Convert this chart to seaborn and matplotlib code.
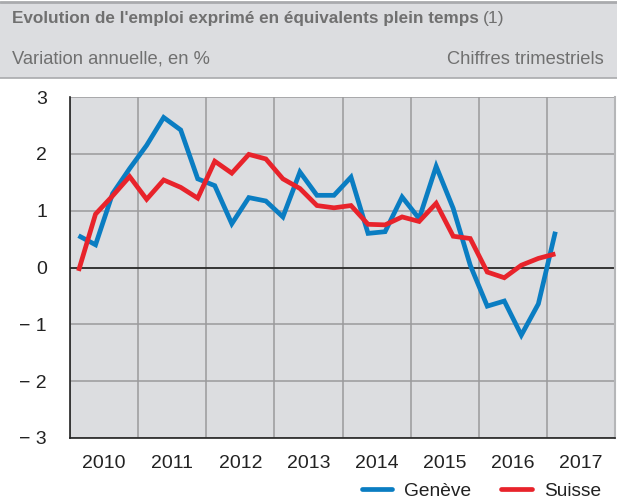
import numpy as np
import pandas as pd
import matplotlib
matplotlib.use("Agg")
import matplotlib.pyplot as plt
from matplotlib.patches import Rectangle
from matplotlib.lines import Line2D
import seaborn as sns

# ---- data (quarterly, 2010Q1 .. 2017Q1) ----
geneve = [0.56, 0.40, 1.30, 1.74, 2.15, 2.64, 2.42, 1.56, 1.44,
          0.77, 1.23, 1.17, 0.89, 1.68, 1.27, 1.27, 1.59,
          0.60, 0.63, 1.24, 0.86, 1.78, 1.04, 0.04, -0.68, -0.59, -1.19, -0.64, 0.63]
suisse = [-0.06, 0.94, 1.26, 1.60, 1.20, 1.54, 1.41, 1.22, 1.87,
          1.66, 1.99, 1.91, 1.56, 1.39, 1.09, 1.05, 1.09,
          0.76, 0.75, 0.89, 0.81, 1.13, 0.55, 0.51, -0.08, -0.18, 0.04, 0.16, 0.24]
years = list(range(2010, 2018))
yticks = [3, 2, 1, 0, -1, -2, -3]
ytick_labels = ["3", "2", "1", "0", "\u2212 1", "\u2212 2", "\u2212 3"]
series_names = ["Genève", "Suisse"]
colors = {"Genève": "#0a7dc2", "Suisse": "#e8232b"}

n = len(geneve)
t = [2010 + (i + 0.5) / 4 for i in range(n)]
df = pd.DataFrame({
    "t": t * 2,
    "val": geneve + suisse,
    "serie": ["Genève"] * n + ["Suisse"] * n,
})

sns.set_theme(style="white")
plt.rcParams["font.family"] = ["Liberation Sans", "DejaVu Sans"]

W, H = 617, 501
fig = plt.figure(figsize=(W / 100, H / 100), dpi=100)
fig.patch.set_facecolor("white")

# header band
fig.patches.append(Rectangle((0, 1 - 78 / H), 1, 76 / H, transform=fig.transFigure,
                             facecolor="#dcdde0", edgecolor="none", zorder=0))
fig.add_artist(Line2D([0, 1], [1 - 2 / H, 1 - 2 / H], transform=fig.transFigure,
                      color="#a9aaad", lw=2))
fig.add_artist(Line2D([0, 1], [1 - 78 / H, 1 - 78 / H], transform=fig.transFigure,
                      color="#a9aaad", lw=1.2))
grey_txt = "#707070"
title = fig.text(12 / W, 1 - 19 / H, "Evolution de l'emploi exprimé en équivalents plein temps",
                 fontsize=12.3, fontweight="bold", color=grey_txt, va="center", ha="left")
fig.canvas.draw()
bb = title.get_window_extent()
fig.text((bb.x1 + 4) / W, 1 - 19 / H, "(1)", fontsize=12.6, color=grey_txt,
         va="center", ha="left")
fig.text(12 / W, 1 - 59 / H, "Variation annuelle, en %", fontsize=13.2,
         color=grey_txt, va="center", ha="left")
fig.text(604 / W, 1 - 59 / H, "Chiffres trimestriels", fontsize=13.2,
         color=grey_txt, va="center", ha="right")

ax = fig.add_axes([70 / W, 1 - 438 / H, 545 / W, 341 / H])
ax.set_facecolor("#dcdde0")

sns.lineplot(data=df, x="t", y="val", hue="serie", palette=colors, ax=ax,
             linewidth=3.4, legend=False, zorder=3)
for l in ax.lines:
    l.set_solid_joinstyle("miter")
    l.set_solid_capstyle("butt")

ax.set_xlim(2010, 2018)
ax.set_ylim(-3, 3)
ax.set_xlabel("")
ax.set_ylabel("")

ax.set_yticks(yticks)
ax.set_yticklabels(ytick_labels)
ax.set_xticks(years + [2018])
ax.set_xticklabels([])
ax.set_xticks([y + 0.5 for y in years], minor=True)
ax.set_xticklabels([str(y) for y in years], minor=True)
ax.tick_params(axis="x", which="minor", length=0, pad=12, labelsize=14, labelcolor="#222222")
ax.tick_params(axis="x", which="major", direction="out", length=9.5, width=1.2, color="#222222")
ax.tick_params(axis="y", which="major", direction="out", length=8.6, width=1.2,
               color="#222222", labelsize=14, labelcolor="#222222", pad=8)

ax.grid(True, which="major", color="#9a9a9c", linewidth=1.1)
ax.axhline(0, color="#222222", linewidth=1.2, zorder=2)

ax.spines["top"].set_visible(False)
ax.spines["right"].set_color("#b5b6b8")
ax.spines["right"].set_linewidth(1.5)
ax.spines["left"].set_color("#222222")
ax.spines["bottom"].set_color("#222222")
ax.spines["left"].set_linewidth(1.2)
ax.spines["bottom"].set_linewidth(1.2)

handles = [Line2D([], [], color=colors[s], lw=3.4) for s in series_names]
fig.legend(handles, series_names, loc="center right", bbox_to_anchor=(601 / W, 1 - 491 / H),
           ncol=2, frameon=False, fontsize=13.8, handlelength=1.6, columnspacing=1.55,
           handletextpad=0.63, labelcolor="#222222", borderpad=0, borderaxespad=0)

fig.savefig("out.png", dpi=100)
